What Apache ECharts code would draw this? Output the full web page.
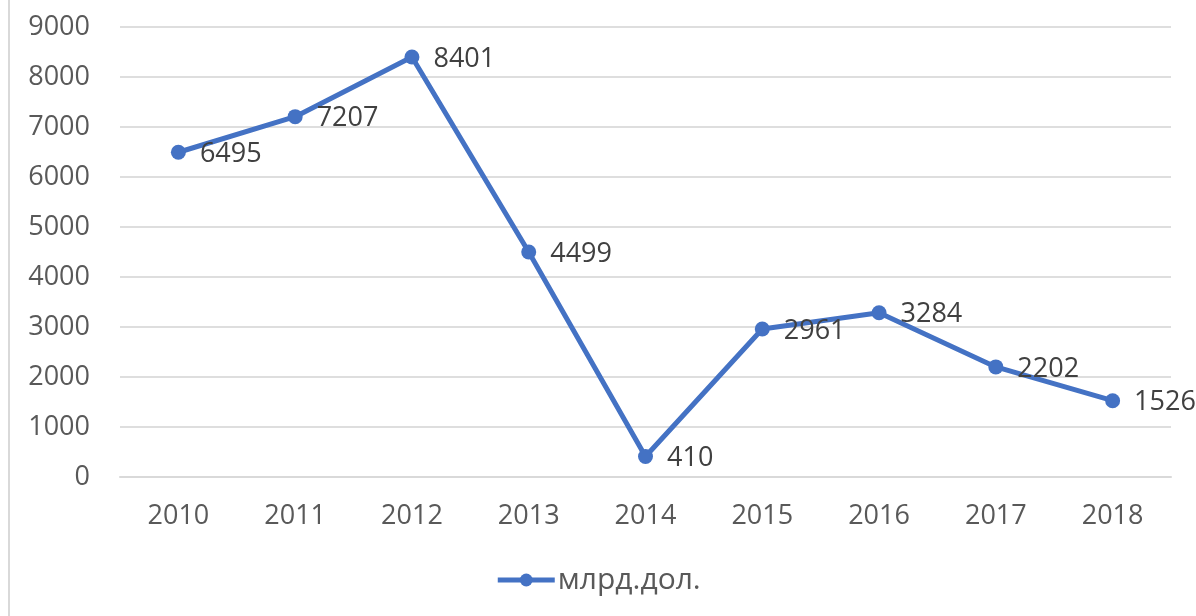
<!DOCTYPE html>
<html><head><meta charset="utf-8">
<script src="https://cdn.jsdelivr.net/npm/echarts@6/dist/echarts.min.js"></script>
<style>html,body{margin:0;padding:0;background:#fff}#c{width:1196px;height:616px}</style>
</head><body><div id="c"></div>
<script>
const years = ['2010','2011','2012','2013','2014','2015','2016','2017','2018'];
const values = [6495, 7207, 8401, 4499, 410, 2961, 3284, 2202, 1526];
const seriesName = 'млрд.дол.';
const yTicks = {min: 0, max: 9000, interval: 1000};

const chart = echarts.init(document.getElementById('c'), null, {renderer: 'canvas'});
const font = '"Open Sans", "Noto Sans", sans-serif';
chart.setOption({
  animation: false,
  backgroundColor: '#fff',
  textStyle: {fontFamily: font},
  graphic: [{type: 'rect', shape: {x: 8, y: 0, width: 2, height: 616}, style: {fill: '#d9d9d9'}, silent: true}],
  grid: {left: 120, right: 25, top: 27, bottom: 139},
  legend: {
    bottom: 16, left: 'center',
    itemWidth: 57, itemHeight: 16, itemGap: 4,
    lineStyle: {width: 5},
    textStyle: {fontSize: 30, color: '#595959', fontFamily: font, padding: [0,0,0,-2]},
    data: [seriesName]
  },
  xAxis: {
    type: 'category', data: years, boundaryGap: true,
    axisLine: {lineStyle: {color: '#d9d9d9', width: 2}},
    axisTick: {show: false},
    axisLabel: {fontSize: 27, color: '#595959', margin: 26, fontFamily: font}
  },
  yAxis: {
    type: 'value', min: yTicks.min, max: yTicks.max, interval: yTicks.interval,
    axisLine: {show: false}, axisTick: {show: false},
    splitLine: {lineStyle: {color: '#dedede', width: 2}},
    axisLabel: {fontSize: 27, color: '#595959', margin: 30, fontFamily: font, formatter: v => String(v)}
  },
  series: [{
    name: seriesName, type: 'line', data: values,
    symbol: 'circle', symbolSize: 15,
    lineStyle: {color: '#4472C4', width: 5},
    itemStyle: {color: '#4472C4'},
    label: {show: true, position: 'right', distance: 14, fontSize: 27, color: '#404040', fontFamily: font, offset: [0, 2]}
  }]
});
</script></body></html>
